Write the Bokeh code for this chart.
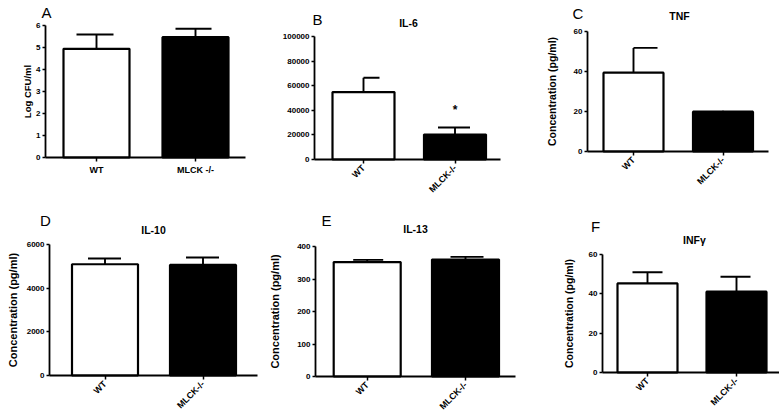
from bokeh.plotting import figure
from bokeh.layouts import row, column
from bokeh.models import Range1d, FixedTicker, ColumnDataSource, BasicTickFormatter
from bokeh.embed import file_html
from bokeh.resources import INLINE
from bokeh.core.properties import value

# ---------------- data ----------------
groups_A = ["WT", "MLCK -/-"]
groups = ["WT", "MLCK-/-"]

cfu_mean = [4.94, 5.47]
cfu_sem = [0.65, 0.38]

il6_mean = [54800, 20300]
il6_sem = [11700, 5700]
il6_sig = ["", "*"]

tnf_mean = [39.4, 19.9]
tnf_sem = [12.4, 0.5]

il10_mean = [5096, 5064]
il10_sem = [261, 339]

il13_mean = [352, 360]
il13_sem = [7, 8]

infg_mean = [45.3, 41.1]
infg_sem = [5.7, 7.6]

y_ticks_A = [0, 1, 2, 3, 4, 5, 6]
y_ticks_B = [0, 20000, 40000, 60000, 80000, 100000]
y_ticks_C = [0, 20, 40, 60]
y_ticks_D = [0, 2000, 4000, 6000]
y_ticks_E = [0, 100, 200, 300, 400]
y_ticks_F = [0, 20, 40, 60]

FONT = "Liberation Sans"
bar_fill = ["white", "black"]


def panel(cats, means, sems, ticks, letter, title, ylabel, box, origin, size,
          centers, bar_px, cap_px, letter_pos, title_pos, ylabel_standoff, ylabel_size,
          rotate, sig=None):
    L, R, T, B = box
    ox, oy = origin
    w, h = size
    cx0, cx1 = centers
    u = cx1 - cx0
    ymax = ticks[-1]
    v = (B - T) / ymax

    def dx(px):
        return (px - cx0) / u

    def dy(py):
        return (B - py) / v

    p = figure(width=w, height=h,
               x_range=Range1d(dx(ox), dx(ox + w)), y_range=Range1d(dy(oy + h), dy(oy)),
               output_backend="svg", toolbar_location=None, title_location=None,
               min_border=0)
    p.outline_line_color = None
    p.xgrid.visible = False
    p.ygrid.visible = False
    p.background_fill_color = "white"
    p.border_fill_color = "white"

    xs = list(range(len(cats)))
    bw = bar_px / u
    tops = [m + s for m, s in zip(means, sems)]
    src = ColumnDataSource(dict(
        x=xs, top=means, err=tops, fill=bar_fill,
        x0=[x - c[0] / u for x, c in zip(xs, cap_px)],
        x1=[x + c[1] / u for x, c in zip(xs, cap_px)]))
    p.segment(x0="x", y0="top", x1="x", y1="err", source=src,
              line_color="black", line_width=1.9)
    p.segment(x0="x0", y0="err", x1="x1", y1="err", source=src,
              line_color="black", line_width=1.9)
    p.vbar(x="x", top="top", bottom=0, width=bw, source=src,
           fill_color="fill", line_color="black", line_width=2.2)

    if sig is not None:
        ssrc = ColumnDataSource(dict(x=xs, y=[t + 0.145 * ymax for t in tops], s=sig))
        p.text(x="x", y="y", text="s", source=ssrc, text_align="center",
               text_baseline="middle", text_font=value(FONT),
               text_font_size="12px", text_font_style="bold", text_color="black")

    for ax in (p.xaxis[0], p.yaxis[0]):
        ax.axis_line_width = 1.8
        ax.axis_line_color = "black"
        ax.major_tick_line_width = 1.5
        ax.major_tick_line_color = "black"
        ax.major_tick_in = 0
        ax.major_tick_out = 3
        ax.minor_tick_line_color = None
        ax.major_label_text_font = FONT
        ax.major_label_text_font_style = "bold"
        ax.major_label_text_color = "black"
        ax.major_label_standoff = 2

    xa = p.xaxis[0]
    xa.fixed_location = 0
    xa.bounds = (dx(L), dx(R))
    xa.ticker = FixedTicker(ticks=xs)
    xa.major_label_overrides = {i: c for i, c in enumerate(cats)}
    xa.major_label_text_font_size = "9px"
    xa.major_tick_out = 4
    xa.major_label_standoff = 3
    if rotate:
        xa.major_label_orientation = 0.785398

    ya = p.yaxis[0]
    ya.fixed_location = dx(L)
    ya.bounds = (0, ymax)
    ya.ticker = FixedTicker(ticks=ticks)
    ya.formatter = BasicTickFormatter(use_scientific=False)
    ya.major_label_text_font_size = "8px"
    if ylabel:
        ya.axis_label = ylabel
        ya.axis_label_text_font = FONT
        ya.axis_label_text_font_style = "bold"
        ya.axis_label_text_font_size = ylabel_size
        ya.axis_label_text_color = "black"
        ya.axis_label_standoff = ylabel_standoff

    # panel letter and title: alphabetic baseline placed from visual centre
    lx, ly = letter_pos
    p.text(x=[dx(lx)], y=[dy(ly + 5.4)], text=[letter], text_font=value(FONT),
           text_font_size="15px", text_align="center", text_baseline="alphabetic",
           text_color="black")
    if title:
        tpx, tpy = title_pos
        p.text(x=[dx(tpx)], y=[dy(tpy + 3.8)], text=[title], text_font=value(FONT),
               text_font_size="10.5px", text_font_style="bold", text_align="center",
               text_baseline="alphabetic", text_color="black")
    return p


TOP_H = 198
BOT_H = 415 - 198

pA = panel(groups_A, cfu_mean, cfu_sem, y_ticks_A, "A", None, "Log CFU/ml",
           (45, 245, 25, 157), (0, 0), (260, TOP_H), (96, 195), 66, [(20, 17), (20, 16)],
           (46, 7), None, 0, "9.5px", False)
pB = panel(groups, il6_mean, il6_sem, y_ticks_B, "B", "IL-6", None,
           (314, 500, 36, 159), (260, 0), (260, TOP_H), (363, 454.5), 62, [(0, 16), (17, 15)],
           (317, 14), (408, 19), 0, "10px", True, sig=il6_sig)
pC = panel(groups, tnf_mean, tnf_sem, y_ticks_C, "C", "TNF", "Concentration (pg/ml)",
           (587, 768, 31, 151), (520, 0), (259, TOP_H), (633, 722.5), 60, [(0, 24), (0, 0)],
           (577.5, 8), (679, 12), 13, "10.5px", True)
pD = panel(groups, il10_mean, il10_sem, y_ticks_D, "D", "IL-10", "Concentration (pg/ml)",
           (49, 257, 244, 375), (0, 198), (260, BOT_H), (104.5, 202.5), 66, [(17, 16), (17, 16)],
           (45, 215), (153, 225.5), 5, "11px", True)
pE = panel(groups, il13_mean, il13_sem, y_ticks_E, "E", "IL-13", "Concentration (pg/ml)",
           (315, 515, 246, 376), (260, 198), (260, BOT_H), (366.7, 465), 67, [(14, 16), (15, 18)],
           (326, 215), (415, 225), 13, "11px", True)
pF = panel(groups, infg_mean, infg_sem, y_ticks_F, "F", "INFγ", "Concentration (pg/ml)",
           (602, 781, 254, 372), (520, 198), (259, BOT_H), (647, 736), 60, [(15, 15), (16, 14)],
           (595, 221), (694, 235.5), 11, "10.5px", True)

layout = column(row(pA, pB, pC, spacing=0), row(pD, pE, pF, spacing=0), spacing=0)

open("out.html", "w").write(file_html(layout, INLINE))
